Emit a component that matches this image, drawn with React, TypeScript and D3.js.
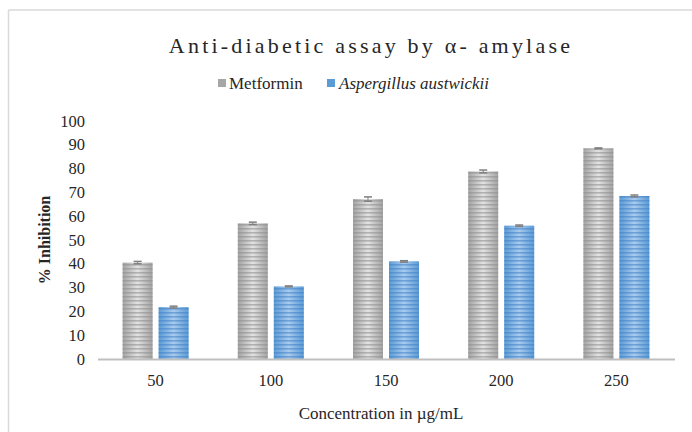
import React from "react";
import * as d3 from "d3";

const categories = ["50", "100", "150", "200", "250"];
const seriesNames = ["Metformin", "Aspergillus austwickii"];
const metformin = [40.5, 57, 67.2, 78.8, 88.5];
const metforminErr = [0.5, 0.5, 0.9, 0.6, 0.2];
const aspergillus = [21.8, 30.5, 41, 56, 68.5];
const aspergillusErr = [0.4, 0.2, 0.3, 0.3, 0.4];
const yTicks = [0, 10, 20, 30, 40, 50, 60, 70, 80, 90, 100];

const W = 692;
const H = 432;
const FONT = "Liberation Serif, Tinos, DejaVu Serif, serif";

export default function App() {
  const x0 = d3.scaleBand<string>().domain(categories).range([98, 674]).paddingInner(0).paddingOuter(0);
  const groupW = 66;
  const x1 = d3.scaleBand<number>().domain([0, 1]).range([0, groupW]).paddingInner(0.1667).paddingOuter(0);
  const y = d3.scaleLinear().domain([0, 100]).range([359, 121]);

  const series = [
    { name: seriesNames[0], values: metformin, errs: metforminErr, grad: "gGray", pat: "pGray" },
    { name: seriesNames[1], values: aspergillus, errs: aspergillusErr, grad: "gBlue", pat: "pBlue" },
  ];

  const txt = { fontFamily: FONT, fill: "#262626" } as React.CSSProperties;

  return (
    <svg width={W} height={H} style={{ position: "absolute", left: 0, top: 0, fontFamily: FONT }}>
      <defs>
        <linearGradient id="gGray" x1="0" x2="1" y1="0" y2="0">
          <stop offset="0%" stopColor="#a3a3a3" />
          <stop offset="50%" stopColor="#e2e2e2" />
          <stop offset="100%" stopColor="#a3a3a3" />
        </linearGradient>
        <linearGradient id="gBlue" x1="0" x2="1" y1="0" y2="0">
          <stop offset="0%" stopColor="#5b9bd5" />
          <stop offset="50%" stopColor="#a9cbee" />
          <stop offset="100%" stopColor="#5b9bd5" />
        </linearGradient>
        <pattern id="pGray" patternUnits="userSpaceOnUse" width="4" height="4">
          <rect x="0" y="0" width="4" height="1.6" fill="#8c8c8c" fillOpacity="0.55" />
        </pattern>
        <pattern id="pBlue" patternUnits="userSpaceOnUse" width="4" height="4">
          <rect x="0" y="0" width="4" height="1.6" fill="#3f7fc6" fillOpacity="0.55" />
        </pattern>
      </defs>
      <rect x={0} y={0} width={W} height={H} fill="#ffffff" />
      {/* frame */}
      <line x1={8.5} y1={10} x2={W} y2={10} stroke="#d9d9d9" strokeWidth={1.5} />
      <line x1={8.5} y1={10} x2={8.5} y2={H} stroke="#d9d9d9" strokeWidth={1.5} />

      {/* title */}
      <text x={371} y={53} textAnchor="middle" style={{ ...txt, fontSize: 22, letterSpacing: 3.2 }}>
        Anti-diabetic assay by α- amylase
      </text>

      {/* legend */}
      <rect x={218} y={79} width={8} height={8} fill="#a6a6a6" />
      <text x={229} y={89} style={{ ...txt, fontSize: 17 }}>Metformin</text>
      <rect x={327} y={79} width={8} height={8} fill="#5b9bd5" />
      <text x={339} y={89} style={{ ...txt, fontSize: 17, fontStyle: "italic" }}>{seriesNames[1]}</text>

      {/* y ticks */}
      {yTicks.map((t) => (
        <text key={t} x={85} y={y(t) + 5.5} textAnchor="end" style={{ ...txt, fontSize: 16.5 }}>
          {t}
        </text>
      ))}

      {/* y label */}
      <text
        transform={`translate(50,${240}) rotate(-90)`}
        textAnchor="middle"
        style={{ ...txt, fontSize: 16, fontWeight: "bold" }}
      >
        % Inhibition
      </text>

      {/* bars */}
      {categories.map((c, i) => {
        const gx = (x0(c) as number) + (x0.bandwidth() - groupW) / 2;
        return (
          <g key={c}>
            {series.map((s, si) => {
              const bx = gx + (x1(si) as number);
              const bw = x1.bandwidth();
              const v = s.values[i];
              const e = s.errs[i];
              const cx = bx + bw / 2;
              return (
                <g key={s.name}>
                  <rect x={bx} y={y(v)} width={bw} height={y(0) - y(v)} fill={`url(#${s.grad})`} />
                  <rect x={bx} y={y(v)} width={bw} height={y(0) - y(v)} fill={`url(#${s.pat})`} />
                  <line x1={cx} x2={cx} y1={y(v + e)} y2={y(v - e)} stroke="#7f7f7f" strokeWidth={1} />
                  <line x1={cx - 4} x2={cx + 4} y1={y(v + e)} y2={y(v + e)} stroke="#7f7f7f" strokeWidth={1.5} />
                  <line x1={cx - 4} x2={cx + 4} y1={y(v - e)} y2={y(v - e)} stroke="#7f7f7f" strokeWidth={1.5} />
                </g>
              );
            })}
            <text
              x={(x0(c) as number) + x0.bandwidth() / 2}
              y={386}
              textAnchor="middle"
              style={{ ...txt, fontSize: 16.5 }}
            >
              {c}
            </text>
          </g>
        );
      })}

      {/* x axis line */}
      <line x1={98} x2={675} y1={y(0) + 0.5} y2={y(0) + 0.5} stroke="#bfbfbf" strokeWidth={2} />

      {/* x label */}
      <text x={381} y={419} textAnchor="middle" style={{ ...txt, fontSize: 17 }}>
        Concentration in µg/mL
      </text>
    </svg>
  );
}
